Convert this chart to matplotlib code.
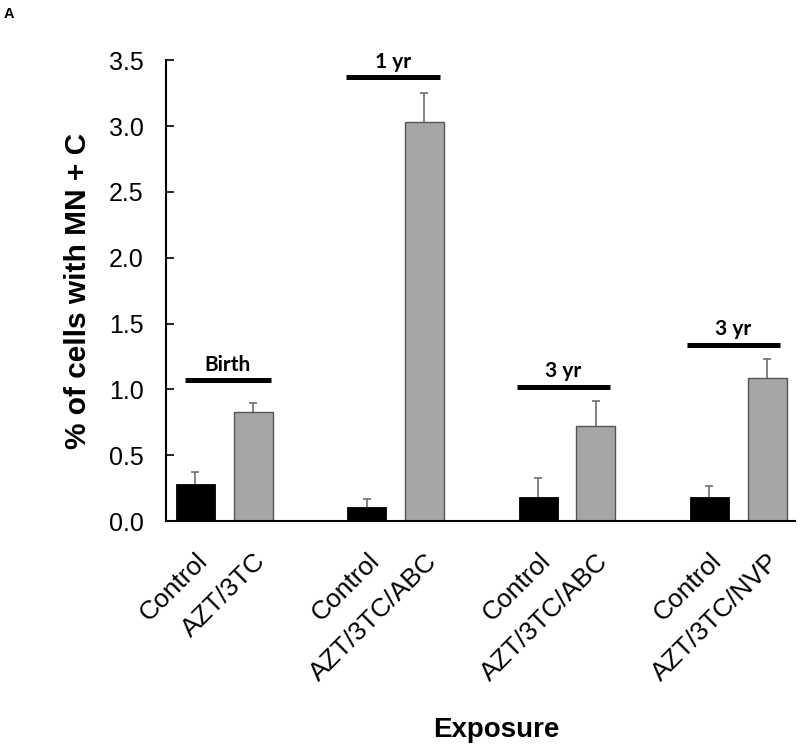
import matplotlib
matplotlib.use("Agg")
import matplotlib.pyplot as plt
import numpy as np

groups = ["Birth", "1 yr", "3 yr", "3 yr"]
control_labels = ["Control", "Control", "Control", "Control"]
treat_labels = ["AZT/3TC", "AZT/3TC/ABC", "AZT/3TC/ABC", "AZT/3TC/NVP"]
control_vals = [0.28, 0.11, 0.18, 0.18]
control_err = [0.09, 0.06, 0.15, 0.09]
treat_vals = [0.83, 3.03, 0.72, 1.09]
treat_err = [0.07, 0.22, 0.19, 0.14]
bracket_y = [1.07, 3.37, 1.02, 1.34]
bracket_left = [-0.23, -0.29, -0.29, -0.30]
bracket_right = [0.27, 0.26, 0.25, 0.245]

fig = plt.figure(figsize=(8.0, 7.53), dpi=100)
ax = fig.add_axes([0.2075, 0.308, 0.786, 0.612])

x = np.arange(len(groups))
w = 0.228
off = 0.168
ax.bar(x - off, control_vals, w, color="black", edgecolor="black", linewidth=0.6, zorder=2)
ax.bar(x + off, treat_vals, w, color="#A6A6A6", edgecolor="#555555", linewidth=1.0, zorder=2)

for xs, vals, errs in [(x - off, control_vals, control_err), (x + off, treat_vals, treat_err)]:
    tops = np.array(vals) + np.array(errs)
    ax.vlines(xs, vals, tops, color="#6e6e6e", lw=1.2, zorder=1)
    ax.plot(xs, tops, ls="none", marker="_", ms=6, mew=1.2, color="#6e6e6e", zorder=1)

for i, g in enumerate(groups):
    ax.plot([i + bracket_left[i], i + bracket_right[i]], [bracket_y[i], bracket_y[i]],
            color="black", lw=3.6, solid_capstyle="butt", clip_on=False)
    ax.text(i + (bracket_left[i] + bracket_right[i]) / 2, bracket_y[i] + 0.072, g,
            ha="center", va="baseline", fontsize=15, fontweight="bold", family="Lato")

ax.set_xlim(-0.34, 3.33)
ax.set_ylim(0, 3.5)
ticks = np.arange(0, 3.51, 0.5)
ax.set_yticks(ticks)
ax.set_yticklabels([f"{v:.1f}" for v in ticks], fontsize=18, family="Liberation Sans")
ax.tick_params(axis="y", direction="in", length=6, width=1.2, pad=16)

pos = []
labs = []
for i in range(len(groups)):
    pos += [i - off, i + off]
    labs += [control_labels[i], treat_labels[i]]
ax.set_xticks(pos)
ax.set_xticklabels(labs, rotation=45, ha="right", va="top", rotation_mode="anchor",
                   fontsize=19, family="Liberation Sans")
ax.tick_params(axis="x", length=0, pad=20)

for s in ["top", "right"]:
    ax.spines[s].set_visible(False)
for s in ["left", "bottom"]:
    ax.spines[s].set_linewidth(1.5)

ax.set_ylabel("% of cells with MN + C", fontsize=21.5, fontweight="bold",
              family="Liberation Sans", labelpad=12)
fig.text(496 / 800, 1 - 737 / 753, "Exposure", ha="center", va="baseline",
         fontsize=20, fontweight="bold", family="Liberation Sans")
fig.text(4 / 800, 1 - 18 / 753, "A", ha="left", va="baseline", fontsize=10.5,
         fontweight="bold", family="Liberation Sans")

fig.savefig("out.png", dpi=100)
